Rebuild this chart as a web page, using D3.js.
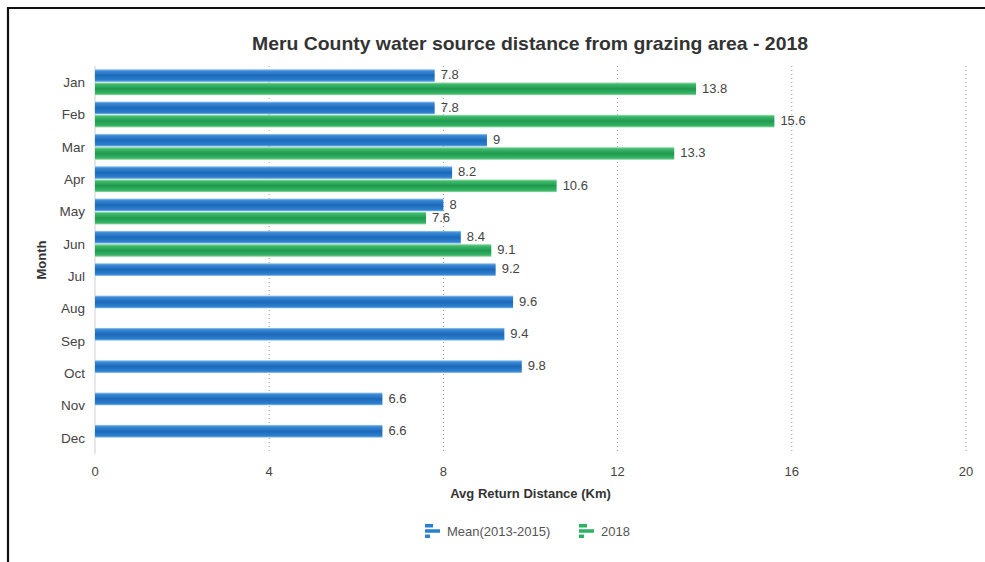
<!DOCTYPE html>
<html>
<head>
<meta charset="utf-8">
<script src="https://cdn.jsdelivr.net/npm/d3@7/dist/d3.min.js"></script>
<style>
  html, body { margin: 0; padding: 0; background: #fff; }
  svg { display: block; font-family: "Liberation Sans", Arial, Helvetica, sans-serif; }
</style>
</head>
<body>
<svg id="chart" width="985" height="562"></svg>
<script>
// Monthly average return distance to water source (km)
const months = ["Jan","Feb","Mar","Apr","May","Jun","Jul","Aug","Sep","Oct","Nov","Dec"];
const meanValues = [7.8, 7.8, 9, 8.2, 8, 8.4, 9.2, 9.6, 9.4, 9.8, 6.6, 6.6];
const values2018 = [13.8, 15.6, 13.3, 10.6, 7.6, 9.1, null, null, null, null, null, null];
const seriesNames = ["Mean(2013-2015)", "2018"];
const xTicks = [0, 4, 8, 12, 16, 20];

const svg = d3.select("#chart");
const W = 985, H = 562;
const m = { left: 95, right: 19, top: 66, bottom: 108 };

// frame lines
svg.append("line").attr("x1", 8).attr("x2", W).attr("y1", 8).attr("y2", 8)
  .attr("stroke", "#111").attr("stroke-width", 2.2);
svg.append("line").attr("x1", 8).attr("x2", 8).attr("y1", 7).attr("y2", H)
  .attr("stroke", "#111").attr("stroke-width", 2.2);

const x = d3.scaleLinear().domain([0, 20]).range([m.left, W - m.right]);
const y = d3.scaleBand().domain(months).range([m.top, H - m.bottom])
  .paddingInner(0.2).paddingOuter(0.1);
const sub = d3.scaleBand().domain(seriesNames).range([0, y.bandwidth()]).paddingInner(0.04);

// gradients
const defs = svg.append("defs");
function grad(id, stops) {
  const g = defs.append("linearGradient").attr("id", id)
    .attr("x1", 0).attr("y1", 0).attr("x2", 0).attr("y2", 1);
  stops.forEach(s => g.append("stop").attr("offset", s[0]).attr("stop-color", s[1]));
}
grad("gBlue", [[0, "#9ccbef"], [0.14, "#3b8ad6"], [0.5, "#1c69ba"], [0.86, "#2d80cf"], [1, "#7fb9e8"]]);
grad("gGreen", [[0, "#aee3bf"], [0.14, "#3fbb6c"], [0.5, "#20994f"], [0.86, "#35b464"], [1, "#95d9aa"]]);
const fills = { "Mean(2013-2015)": "url(#gBlue)", "2018": "url(#gGreen)" };

// grid lines
const plotBottom = H - m.bottom;
svg.append("g").selectAll("line").data(xTicks.filter(d => d > 0)).join("line")
  .attr("x1", d => x(d)).attr("x2", d => x(d))
  .attr("y1", m.top).attr("y2", plotBottom)
  .attr("stroke", "#9a9a9a").attr("stroke-width", 1)
  .attr("stroke-dasharray", "1,3");

// y axis line
svg.append("line").attr("x1", x(0)).attr("x2", x(0))
  .attr("y1", m.top).attr("y2", plotBottom).attr("stroke", "#cfcfcf");

// bars
const rows = months.map((mo, i) => ({ month: mo, vals: [
  { s: seriesNames[0], v: meanValues[i] },
  { s: seriesNames[1], v: values2018[i] }
].filter(d => d.v != null) }));

const grp = svg.append("g").selectAll("g").data(rows).join("g")
  .attr("transform", d => `translate(0,${y(d.month)})`);

grp.selectAll("rect").data(d => d.vals).join("rect")
  .attr("x", x(0))
  .attr("y", d => sub(d.s))
  .attr("width", d => x(d.v) - x(0))
  .attr("height", sub.bandwidth())
  .attr("fill", d => fills[d.s]);

grp.selectAll("text").data(d => d.vals).join("text")
  .attr("x", d => x(d.v) + 6)
  .attr("y", d => sub(d.s) + sub.bandwidth() / 2)
  .attr("dy", "0.3em")
  .attr("font-size", 13).attr("fill", "#444")
  .text(d => d.v);

// y axis labels
svg.append("g").selectAll("text").data(months).join("text")
  .attr("x", x(0) - 10)
  .attr("y", d => y(d) + y.bandwidth() / 2)
  .attr("dy", "0.35em").attr("text-anchor", "end")
  .attr("font-size", 13.5).attr("fill", "#444")
  .text(d => d);

// x axis labels
svg.append("g").selectAll("text").data(xTicks).join("text")
  .attr("x", d => x(d)).attr("y", plotBottom + 22)
  .attr("text-anchor", "middle").attr("font-size", 13).attr("fill", "#444")
  .text(d => d);

// axis titles
svg.append("text").attr("x", (x(0) + x(20)) / 2).attr("y", 498)
  .attr("text-anchor", "middle").attr("font-size", 13).attr("font-weight", "bold")
  .attr("fill", "#333").text("Avg Return Distance (Km)");
svg.append("text").attr("transform", `translate(46,${(m.top + plotBottom) / 2}) rotate(-90)`)
  .attr("text-anchor", "middle").attr("font-size", 13).attr("font-weight", "bold")
  .attr("fill", "#333").text("Month");

// title
svg.append("text").attr("x", 530).attr("y", 50)
  .attr("text-anchor", "middle").attr("font-size", 19).attr("font-weight", "bold")
  .attr("fill", "#333").attr("textLength", 556).attr("lengthAdjust", "spacingAndGlyphs")
  .text("Meru County water source distance from grazing area - 2018");

// legend
const legendColors = ["#2a7fd0", "#2fb163"];
const legendX = [425, 579];
const lg = svg.append("g").selectAll("g").data(seriesNames).join("g")
  .attr("transform", (d, i) => `translate(${legendX[i]},531)`);
lg.append("rect").attr("x", 0).attr("y", -7).attr("width", 8).attr("height", 3.5)
  .attr("fill", (d, i) => legendColors[i]);
lg.append("rect").attr("x", 0).attr("y", -1.75).attr("width", 15).attr("height", 3.5)
  .attr("fill", (d, i) => legendColors[i]);
lg.append("rect").attr("x", 0).attr("y", 3.5).attr("width", 5).attr("height", 3.5)
  .attr("fill", (d, i) => legendColors[i]);
lg.append("text").attr("x", 22).attr("dy", "0.35em")
  .attr("font-size", 13).attr("fill", "#555").text(d => d);
</script>
</body>
</html>
